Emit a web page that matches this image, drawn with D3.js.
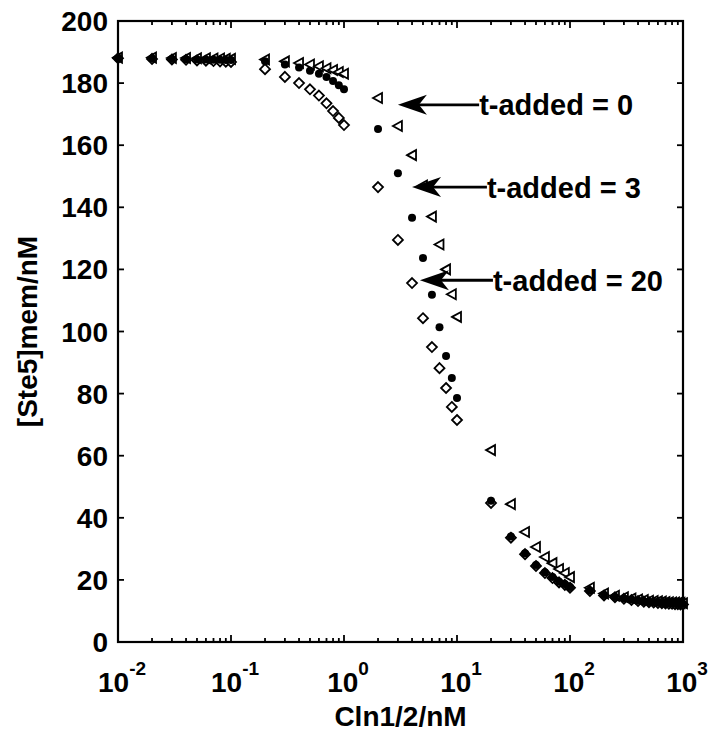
<!DOCTYPE html>
<html><head><meta charset="utf-8">
<script src="https://cdn.jsdelivr.net/npm/d3@7"></script>
<style>body{margin:0;background:#fff}svg{display:block}text{font-family:"Liberation Sans",Arial,sans-serif;font-weight:bold;fill:#000}</style>
</head><body><svg id="c" width="708" height="731"></svg>
<script>
const xValues = [0.01,0.02,0.03,0.04,0.05,0.06,0.07,0.08,0.09,0.1,
  0.2,0.3,0.4,0.5,0.6,0.7,0.8,0.9,1,
  2,3,4,5,6,7,8,9,10,
  20,30,40,50,60,70,80,90,100,
  150,200,250,300,350,400,450,500,550,600,650,700,750,800,850,900,950,1000];
const tAdded0 = [188.2,188.2,188.1,188.1,188.0,188.0,187.9,187.9,187.8,187.8,
  187.6,187.0,186.5,186.0,185.4,184.8,184.2,183.6,183.0,
  175.2,166.2,156.8,147.0,137.0,128.0,120.0,112.0,104.7,
  61.8,44.4,35.4,30.6,27.4,25.4,23.5,22.2,20.9,
  17.5,15.6,14.9,14.4,14.0,13.7,13.5,13.3,13.2,13.1,13.0,12.9,12.8,12.7,12.7,12.6,12.6,12.5];
const tAdded3 = [188.0,187.9,187.8,187.7,187.6,187.6,187.5,187.5,187.4,187.4,
  187.0,186.0,185.0,184.0,183.0,182.0,180.7,179.3,178.0,
  165.2,151.0,136.6,123.7,111.8,101.4,92.1,85.0,78.6,
  45.5,34.0,28.6,24.8,22.5,20.9,19.4,18.7,17.7,
  16.5,15.1,14.5,14.0,13.6,13.3,13.1,12.9,12.8,12.7,12.6,12.5,12.4,12.4,12.3,12.3,12.2,12.2];
const tAdded20 = [188.0,187.8,187.6,187.5,187.3,187.2,187.1,187.0,186.9,186.8,
  184.5,182.0,180.0,178.0,176.0,173.5,171.0,168.8,166.5,
  146.5,129.5,115.6,104.3,95.0,88.2,81.8,75.7,71.5,
  44.8,33.6,28.3,24.5,22.2,20.6,19.2,18.4,17.5,
  16.4,15.0,14.4,13.9,13.5,13.2,13.0,12.8,12.7,12.6,12.5,12.4,12.3,12.3,12.2,12.2,12.1,12.1];
const xTickExps = [-2,-1,0,1,2,3];
const yTicks = [0,20,40,60,80,100,120,140,160,180,200];
const annotations = [
  {label:"t-added = 0", tipX:3.0, tipY:173, textX:15.7, textY:173},
  {label:"t-added = 3", tipX:4.0, tipY:146.5, textX:18.4, textY:146.5},
  {label:"t-added = 20", tipX:4.7, tipY:116.5, textX:20.8, textY:116.5}
];

const svg = d3.select("#c");
const L = 118, R = 683, T = 21, B = 642;
const x = d3.scaleLog().domain([1e-2, 1e3]).range([L, R]);
const y = d3.scaleLinear().domain([0, 200]).range([B, T]);

// frame
svg.append("rect").attr("x",L).attr("y",T).attr("width",R-L).attr("height",B-T)
  .attr("fill","none").attr("stroke","#000").attr("stroke-width",2.2);

// ticks
const minor = [];
for (let e=-2;e<3;e++) for (let m=2;m<=9;m++) minor.push(m*Math.pow(10,e));
const majors = xTickExps.map(e=>Math.pow(10,e));
const gx = svg.append("g").attr("stroke","#000").attr("stroke-width",1.8);
majors.forEach(v=>{
  gx.append("line").attr("x1",x(v)).attr("x2",x(v)).attr("y1",B).attr("y2",B-7);
  gx.append("line").attr("x1",x(v)).attr("x2",x(v)).attr("y1",T).attr("y2",T+7);
});
minor.forEach(v=>{
  gx.append("line").attr("x1",x(v)).attr("x2",x(v)).attr("y1",B).attr("y2",B-4);
  gx.append("line").attr("x1",x(v)).attr("x2",x(v)).attr("y1",T).attr("y2",T+4);
});
yTicks.forEach(v=>{
  gx.append("line").attr("x1",L).attr("x2",L+6).attr("y1",y(v)).attr("y2",y(v));
  gx.append("line").attr("x1",R).attr("x2",R-6).attr("y1",y(v)).attr("y2",y(v));
});

// tick labels
svg.append("g").selectAll("text").data(yTicks).join("text")
  .attr("x",L-10).attr("y",d=>y(d)).attr("dy","0.36em").attr("text-anchor","end")
  .attr("font-size",28).text(d=>d);
const xl = svg.append("g").selectAll("text").data(xTickExps).join("text")
  .attr("x",d=>x(Math.pow(10,d))+4).attr("y",B+50).attr("text-anchor","middle").attr("font-size",28);
xl.append("tspan").text("10");
xl.append("tspan").attr("dy",-17).attr("font-size",19).text(d=>d);

// axis titles
svg.append("text").attr("x",(L+R)/2).attr("y",726).attr("text-anchor","middle").attr("font-size",28).text("Cln1/2/nM");
svg.append("text").attr("transform",`translate(37,${(T+B)/2}) rotate(-90)`).attr("text-anchor","middle").attr("font-size",28).text("[Ste5]mem/nM");

// series
const pts = (vals)=>xValues.map((v,i)=>({x:v,y:vals[i]}));
svg.append("g").selectAll("path").data(pts(tAdded0)).join("path")
  .attr("transform",d=>`translate(${x(d.x)},${y(d.y)})`)
  .attr("d","M-5,0L4,-5L4,5Z").attr("fill","#fff").attr("stroke","#000").attr("stroke-width",1.8);
svg.append("g").selectAll("path").data(pts(tAdded20)).join("path")
  .attr("transform",d=>`translate(${x(d.x)},${y(d.y)})`)
  .attr("d","M0,-5L5,0L0,5L-5,0Z").attr("fill","#fff").attr("stroke","#000").attr("stroke-width",1.8);
svg.append("g").selectAll("circle").data(pts(tAdded3)).join("circle")
  .attr("cx",d=>x(d.x)).attr("cy",d=>y(d.y)).attr("r",4).attr("fill","#000");

// annotations
const ga = svg.append("g");
annotations.forEach(a=>{
  const tx = x(a.tipX), ty = y(a.tipY), ex = x(a.textX), ey = y(a.textY);
  ga.append("line").attr("x1",tx+10).attr("y1",ty).attr("x2",ex).attr("y2",ey).attr("stroke","#000").attr("stroke-width",2.8);
  ga.append("path").attr("transform",`translate(${tx},${ty})`)
    .attr("d","M0,0L29,-10L21,0L29,10Z").attr("fill","#000");
  ga.append("text").attr("x",ex).attr("y",ey).attr("dy","0.36em").attr("font-size",29).text(a.label);
});
</script></body></html>
